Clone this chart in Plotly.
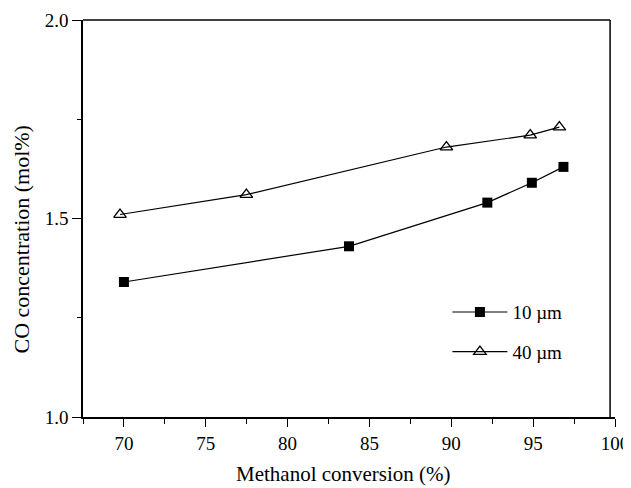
import plotly.graph_objects as go

x10 = [70.0, 83.75, 92.2, 94.92, 96.85]
y10 = [1.34, 1.43, 1.54, 1.59, 1.63]
x40 = [69.76, 77.48, 89.7, 94.82, 96.6]
y40 = [1.51, 1.56, 1.68, 1.71, 1.73]
names = ["10 \u00b5m", "40 \u00b5m"]
xticks = [70, 75, 80, 85, 90, 95, 100]
yticks = [1.0, 1.5, 2.0]
xtitle = "Methanol conversion (%)"
ytitle = "CO concentration (mol%)"

FONT = "Liberation Serif"

fig = go.Figure()
fig.add_trace(go.Scatter(x=x10, y=y10, mode="lines+markers", name=names[0],
                         line=dict(color="black", width=1.2),
                         marker=dict(symbol="square", size=10, color="black"),
                         legendgroup="a"))
fig.add_trace(go.Scatter(x=x40, y=y40, mode="lines+markers", name=names[1],
                         line=dict(color="black", width=1.2),
                         marker=dict(symbol="triangle-up-open", size=11, color="black",
                                     line=dict(width=1.3, color="black")),
                         legendgroup="b"))

xmax_frame = 99.7
fig.update_layout(
    width=623, height=480,
    margin=dict(l=75, r=16, t=12, b=71),
    paper_bgcolor="white", plot_bgcolor="white",
    font=dict(family=FONT, size=19, color="black"),
    showlegend=True,
    legend=dict(x=0.685, y=0.312, xanchor="left", yanchor="top",
                font=dict(family=FONT, size=19), bgcolor="rgba(0,0,0,0)",
                tracegroupgap=12, itemwidth=55),
    xaxis=dict(range=[67.5, 100], tickvals=xticks, ticktext=[str(v) for v in xticks],
               automargin=False,
               showgrid=False, zeroline=False, showline=True, linecolor="black", linewidth=1.5,
               ticks="outside", ticklen=8, tickwidth=1.2, tickcolor="black",
               minor=dict(ticks="outside", ticklen=5, tickwidth=1.2, tickcolor="black", dtick=2.5,
                          tick0=67.5, showgrid=False),
               tickfont=dict(family=FONT, size=19)),
    yaxis=dict(range=[1.0, 2.0], tickvals=yticks, ticktext=["1.0", "1.5", "2.0"],
               automargin=False,
               showgrid=False, zeroline=False, showline=True, linecolor="black", linewidth=1.5,
               ticks="outside", ticklen=9, tickwidth=1.2, tickcolor="black",
               minor=dict(ticks="outside", ticklen=4, tickwidth=1.2, tickcolor="black", dtick=0.25,
                          tick0=1.0, showgrid=False),
               tickfont=dict(family=FONT, size=19)),
)
fig.add_annotation(text=xtitle, xref="paper", yref="paper", x=0.49, y=0,
                   xanchor="center", yanchor="middle", yshift=-57, showarrow=False,
                   font=dict(family=FONT, size=21, color="black"))
fig.add_annotation(text=ytitle, xref="paper", yref="paper", x=0, y=0.447,
                   xanchor="center", yanchor="middle", xshift=-61, textangle=-90, showarrow=False,
                   font=dict(family=FONT, size=22, color="black"))
fig.add_shape(type="line", xref="x", yref="paper", x0=xmax_frame, x1=xmax_frame, y0=0, y1=1,
              line=dict(color="black", width=1.5))
fig.add_shape(type="line", xref="x", yref="paper", x0=67.5, x1=xmax_frame, y0=1, y1=1,
              line=dict(color="black", width=1.5))

fig.write_html("out.html")
